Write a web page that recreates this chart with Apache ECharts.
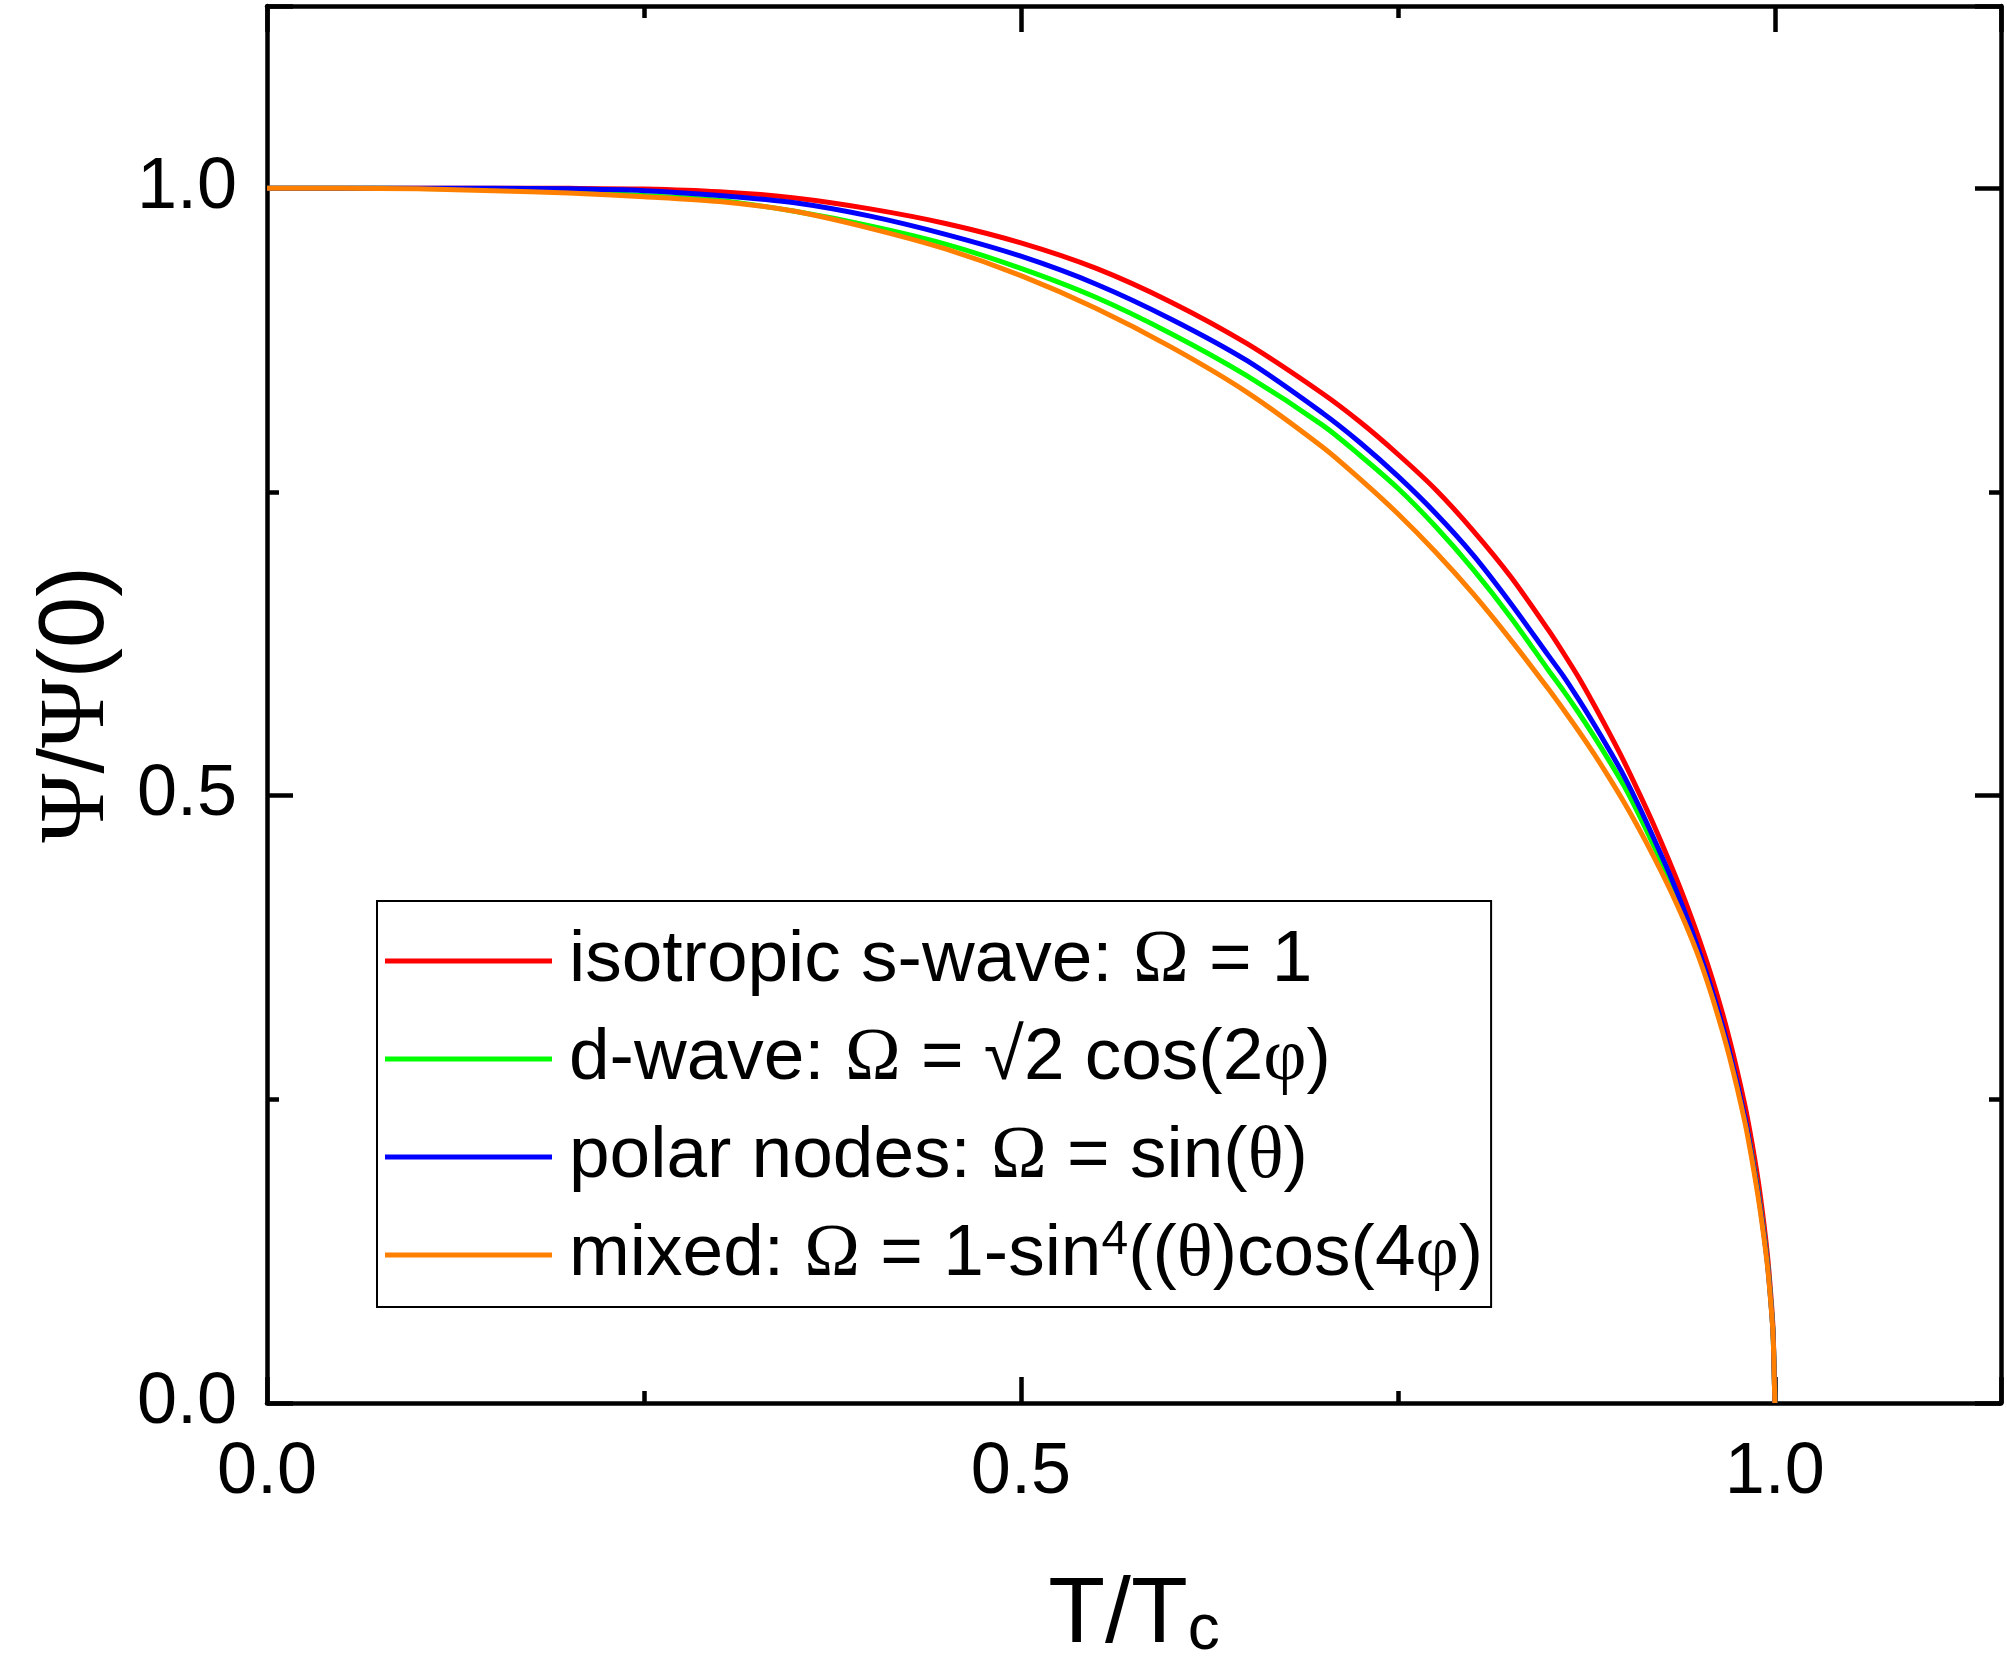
<!DOCTYPE html>
<html>
<head>
<meta charset="utf-8">
<script src="https://cdn.jsdelivr.net/npm/echarts@6/dist/echarts.min.js"></script>
<style>
  html, body { margin: 0; padding: 0; background: #fff; }
  #chart { width: 2007px; height: 1670px; }
</style>
</head>
<body>
<div id="chart"></div>
<script>
// reduced temperature T/Tc (denser near Tc where the curves drop fast)
const tRed = [0, 0.05, 0.1, 0.15, 0.2, 0.25, 0.3, 0.35, 0.4, 0.45, 0.5, 0.55, 0.6, 0.65, 0.7,
  0.725, 0.75, 0.775, 0.8, 0.825, 0.85,
  0.86, 0.87, 0.88, 0.89, 0.9, 0.91, 0.92, 0.93, 0.94, 0.95, 0.96, 0.97, 0.98,
  0.985, 0.99, 0.995, 0.998, 0.999, 1.0];

// Psi/Psi(0) for each gap symmetry
const sWave = [1, 1, 1, 1, 0.9999, 0.9993, 0.997, 0.992, 0.983, 0.971, 0.955, 0.934, 0.906, 0.872, 0.831,
  0.8075, 0.781, 0.752, 0.718, 0.680, 0.636,
  0.617, 0.597, 0.575, 0.552, 0.528, 0.502, 0.475, 0.446, 0.415, 0.381, 0.343, 0.299, 0.246,
  0.213, 0.174, 0.123, 0.078, 0.055, 0];
const dWave = [1, 1, 0.9998, 0.999, 0.997, 0.994, 0.990, 0.981, 0.969, 0.954, 0.934, 0.910, 0.880, 0.8455, 0.805,
  0.780, 0.753, 0.7215, 0.686, 0.6465, 0.603,
  0.586, 0.568, 0.549, 0.529, 0.508, 0.484, 0.458, 0.431, 0.401, 0.368, 0.331, 0.288, 0.235,
  0.203, 0.165, 0.117, 0.074, 0.052, 0];
const polar = [1, 1, 1, 0.9999, 0.9995, 0.998, 0.994, 0.988, 0.977, 0.962, 0.944, 0.921, 0.892, 0.858, 0.815,
  0.7905, 0.763, 0.7325, 0.698, 0.658, 0.615,
  0.598, 0.579, 0.559, 0.538, 0.516, 0.491, 0.464, 0.436, 0.405, 0.371, 0.333, 0.289, 0.236,
  0.202, 0.164, 0.116, 0.073, 0.052, 0];
const mixed = [1, 0.9999, 0.9995, 0.998, 0.996, 0.993, 0.989, 0.981, 0.967, 0.950, 0.928, 0.901, 0.869, 0.832, 0.787,
  0.7605, 0.732, 0.7005, 0.666, 0.628, 0.5875,
  0.5705, 0.553, 0.5345, 0.515, 0.4945, 0.4725, 0.449, 0.424, 0.3965, 0.3655, 0.328, 0.2845, 0.232,
  0.199, 0.161, 0.114, 0.072, 0.051, 0];

const names = [
  'isotropic s-wave: Ω = 1',
  'd-wave: Ω = √2 cos(2φ)',
  'polar nodes: Ω = sin(θ)',
  'mixed: Ω = 1-sin4((θ)cos(4φ)'
];
const richNames = [
  'isotropic s-wave: {g|Ω} = 1',
  'd-wave: {g|Ω} = √2 cos(2{g|φ})',
  'polar nodes: {g|Ω} = sin({g|θ})',
  'mixed: {g|Ω} = 1-sin{sup|4}(({g|θ})cos(4{g|φ})'
];
const colors = ['#ff0000', '#00ff00', '#0000ff', '#ff8000'];
const values = [sWave, dWave, polar, mixed];

const tickLabels = v => (Math.abs(v * 2 - Math.round(v * 2)) < 1e-6 ? v.toFixed(1) : '');

const FONT = 'Liberation Sans';
const SERIF = 'Liberation Serif';

function axis(pos, major, extra) {
  return Object.assign({
    type: 'value',
    position: pos,
    min: 0,
    max: 1.15,
    interval: major ? 0.5 : 0.25,
    axisLine: { show: major, onZero: false, lineStyle: { color: '#000', width: 4.5 } },
    axisTick: { show: true, inside: true, length: major ? 26 : 12, lineStyle: { color: '#000', width: 4.5 } },
    axisLabel: { show: false },
    splitLine: { show: false }
  }, extra || {});
}

const chart = echarts.init(document.getElementById('chart'));

const option = {
  animation: false,
  backgroundColor: '#fff',
  grid: { left: 267, right: 6, top: 6, bottom: 267, containLabel: false },
  legend: {
    orient: 'vertical',
    left: 377,
    top: 901,
    padding: [22, 8, 14, 8],
    icon: 'rect',
    itemWidth: 167,
    itemHeight: 5,
    itemGap: 22,
    borderColor: '#000',
    borderWidth: 2,
    data: names,
    formatter: name => richNames[names.indexOf(name)],
    textStyle: {
      fontFamily: FONT,
      fontSize: 73,
      lineHeight: 76,
      color: '#000',
      padding: [0, 0, 0, 12],
      rich: {
        g: { fontFamily: SERIF, fontSize: 75, lineHeight: 76, color: '#000' },
        sup: { fontFamily: FONT, fontSize: 48, lineHeight: 40, color: '#000', verticalAlign: 'top' }
      }
    }
  },
  xAxis: [
    axis('bottom', true, {
      axisLabel: { show: true, formatter: tickLabels, margin: 34, fontFamily: FONT, fontSize: 72, color: '#000' },
      name: '{a|T/T}{s|c}',
      nameLocation: 'middle',
      nameGap: 122,
      nameTextStyle: {
        rich: {
          a: { fontFamily: FONT, fontSize: 93, lineHeight: 138, color: '#000', verticalAlign: 'bottom' },
          s: { fontFamily: FONT, fontSize: 64, lineHeight: 62, color: '#000', verticalAlign: 'bottom' }
        }
      }
    }),
    axis('bottom', false),
    axis('top', true),
    axis('top', false)
  ],
  yAxis: [
    axis('left', true, {
      axisLabel: { show: true, formatter: tickLabels, margin: 30, fontFamily: FONT, fontSize: 72, color: '#000' },
      name: '{p|Ψ}/{p|Ψ}(0)',
      nameLocation: 'middle',
      nameGap: 142,
      nameTextStyle: {
        fontFamily: FONT,
        fontSize: 92,
        color: '#000',
        rich: {
          p: { fontFamily: SERIF, fontSize: 94, color: '#000' }
        }
      }
    }),
    axis('left', false),
    axis('right', true),
    axis('right', false)
  ],
  series: names.map((n, i) => ({
    name: n,
    type: 'line',
    xAxisIndex: 0,
    yAxisIndex: 0,
    showSymbol: false,
    symbol: 'none',
    smooth: 0.3,
    color: colors[i],
    lineStyle: { color: colors[i], width: 5 },
    data: tRed.map((t, k) => [t, values[i][k]])
  }))
};

chart.setOption(option);
</script>
</body>
</html>
